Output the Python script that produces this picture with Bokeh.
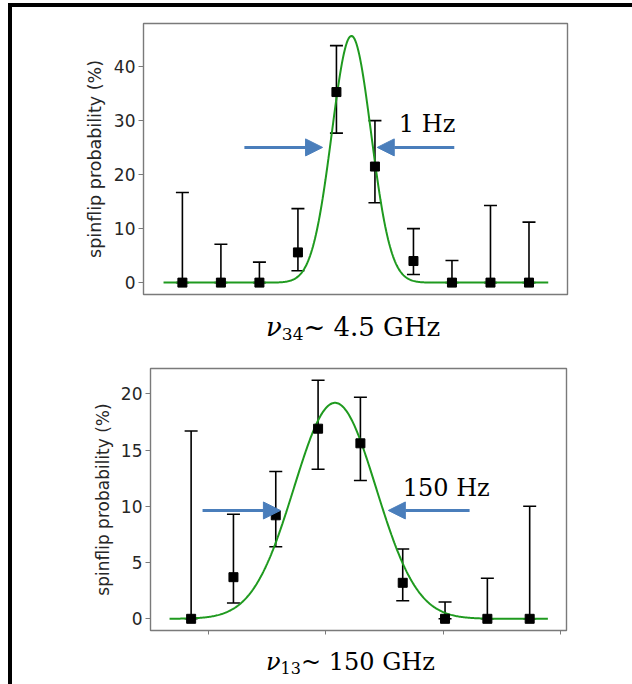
import numpy as np
from bokeh.plotting import figure
from bokeh.models import (ColumnDataSource, Whisker, TeeHead, Arrow, NormalHead,
                          Label, FixedTicker, Range1d, Div)
from bokeh.layouts import column
from bokeh.embed import file_html
from bokeh.resources import INLINE

# ---------------- data: top panel (nu_34 ~ 4.5 GHz) ----------------
top_x = [0, 1, 2, 3, 4, 5, 6, 7, 8, 9]
top_y = [0, 0, 0, 5.6, 35.3, 21.5, 4.0, 0, 0, 0]
top_lower = [0, 0, 0, 2.2, 27.7, 14.8, 1.5, 0, 0, 0]
top_upper = [16.7, 7.1, 3.8, 13.7, 43.9, 30.0, 10.0, 4.1, 14.3, 11.2]
top_fit_amp = 45.7
top_fit_center = 4.39
top_fit_sigma = 0.51
top_fit_span = (-0.49, 9.5)
top_yticks = [0, 10, 20, 30, 40]
top_width_label = "1 Hz"
top_caption = ("ν", "34", "~ 4.5 GHz")

# ---------------- data: bottom panel (nu_13 ~ 150 GHz) ----------------
bot_x = [0, 1, 2, 3, 4, 5, 6, 7, 8]
bot_y = [0, 3.7, 9.2, 16.9, 15.6, 3.2, 0, 0, 0]
bot_lower = [0, 1.4, 6.4, 13.3, 12.3, 1.6, 0, 0, 0]
bot_upper = [16.7, 9.3, 13.1, 21.2, 19.7, 6.2, 1.5, 3.6, 10.0]
bot_fit_amp = 19.2
bot_fit_center = 3.40
bot_fit_sigma = 0.97
bot_fit_span = (-0.51, 8.43)
bot_yticks = [0, 5, 10, 15, 20]
bot_xticks = [0.41, 3.17, 5.96, 8.72]
bot_width_label = "150 Hz"
bot_caption = ("ν", "13", "~ 150 GHz")

BLUE = "#4a7ebb"
GREEN = "#1f9a1f"
TXT = "#262626"
FRAME = "#7a7a7a"


def make_panel(x, y, lo, up, amp, cen, sig, span, yticks, xticks,
               xr, yr, w, h, borders, tick_fs, label_fs, standoff):
    p = figure(width=w, height=h, x_range=Range1d(*xr), y_range=Range1d(*yr),
               output_backend="svg", toolbar_location=None,
               min_border_left=borders[0], min_border_right=borders[1],
               min_border_top=borders[2], min_border_bottom=borders[3])
    p.grid.visible = False
    p.outline_line_color = FRAME
    p.outline_line_width = 1.4
    p.background_fill_color = "white"
    p.border_fill_color = "white"

    p.yaxis.ticker = FixedTicker(ticks=yticks)
    p.yaxis.minor_tick_line_color = None
    p.yaxis.axis_line_color = None
    p.yaxis.major_tick_line_color = FRAME
    p.yaxis.major_tick_in = 0
    p.yaxis.major_tick_out = 5
    p.yaxis.major_label_text_font = "DejaVu Sans"
    p.yaxis.major_label_text_font_size = tick_fs
    p.yaxis.major_label_text_color = TXT
    p.yaxis.major_label_standoff = 3
    p.yaxis.axis_label = "spinflip probability (%)"
    p.yaxis.axis_label_text_font = "DejaVu Sans"
    p.yaxis.axis_label_text_font_style = "normal"
    p.yaxis.axis_label_text_font_size = label_fs
    p.yaxis.axis_label_text_color = TXT
    p.yaxis.axis_label_standoff = standoff

    if xticks:
        p.xaxis.ticker = FixedTicker(ticks=xticks)
        p.xaxis.minor_tick_line_color = None
        p.xaxis.axis_line_color = None
        p.xaxis.major_tick_line_color = FRAME
        p.xaxis.major_tick_in = 0
        p.xaxis.major_tick_out = 4
        p.xaxis.major_label_text_font_size = "0px"
        p.xaxis.major_label_text_color = None
        p.xaxis.major_label_standoff = 0
    else:
        p.xaxis.visible = False

    xf = np.linspace(span[0], span[1], 400)
    yf = amp * np.exp(-(xf - cen) ** 2 / (2 * sig ** 2))
    p.line(xf, yf, line_color=GREEN, line_width=2)

    src = ColumnDataSource(dict(x=x, y=y, lo=lo, up=up))
    wh = Whisker(base="x", lower="lo", upper="up", source=src,
                 line_color="black", line_width=1.6,
                 upper_head=TeeHead(size=13, line_color="black", line_width=1.6),
                 lower_head=TeeHead(size=13, line_color="black", line_width=1.6))
    p.add_layout(wh)
    p.scatter("x", "y", source=src, marker="square", size=9,
              fill_color="black", line_color="black")
    return p


p1 = make_panel(top_x, top_y, top_lower, top_upper, top_fit_amp, top_fit_center,
                top_fit_sigma, top_fit_span, top_yticks, [], (-1.01, 10.0), (-2.2, 48.0),
                620, 293, (131, 65, 16, 6), "17px", "17.5px", 6)
p2 = make_panel(bot_x, bot_y, bot_lower, bot_upper, bot_fit_amp, bot_fit_center,
                bot_fit_sigma, bot_fit_span, bot_yticks, bot_xticks, (-0.96, 8.87),
                (-1.04, 22.25), 620, 296, (138, 66, 26, 8), "17px", "17px", 5)


def arrow(p, xs, xe, yv):
    p.add_layout(Arrow(x_start=xs, y_start=yv, x_end=xe, y_end=yv,
                       line_color=BLUE, line_width=3,
                       end=NormalHead(size=17, fill_color=BLUE, line_color=BLUE)))


def label(p, x, y, text, size):
    p.add_layout(Label(x=x, y=y, text=text, text_font="DejaVu Serif",
                       text_font_size=size, text_color="black", text_baseline="top"))


arrow(p1, 1.61, 3.64, 25.05)
arrow(p1, 7.06, 5.06, 25.05)
label(p1, 5.62, 31.9, top_width_label, "24px")

arrow(p2, 0.27, 2.11, 9.63)
arrow(p2, 6.58, 4.66, 9.63)
label(p2, 5.00, 12.9, bot_width_label, "24px")


def caption(parts, size, sub_size, pad_top, pad_left, height, sub_shift):
    nu, sub, rest = parts
    html = ('<div style="font-family:\'DejaVu Serif\';font-size:%dpx;line-height:%dpx;'
            'padding-top:%dpx;padding-left:%dpx;white-space:nowrap;color:black">'
            '<i>%s</i><span style="font-size:%dpx;position:relative;top:%dpx">%s</span>%s</div>'
            % (size, size, pad_top, pad_left, nu, sub_size, sub_shift, sub, rest))
    return Div(text=html, width=620, height=height, margin=0)


cap1 = caption(top_caption, 26, 17, 14, 254, 42, 4)
cap2 = caption(bot_caption, 24, 16, 12, 254, 46, 4)

layout = column(column(p1, margin=0), cap1, column(p2, margin=0), cap2,
                spacing=0, margin=0,
                styles={"border-top": "4px solid black",
                        "border-left": "4px solid black",
                        "margin-top": "3px", "margin-left": "8px"})

open("out.html", "w").write(file_html(layout, INLINE))
